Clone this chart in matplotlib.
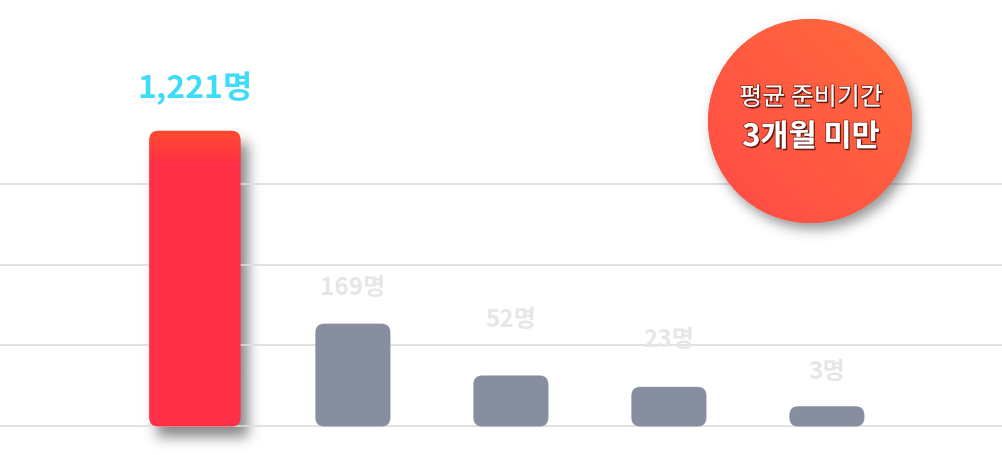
import numpy as np
import matplotlib
matplotlib.use('Agg')
import matplotlib.pyplot as plt
from matplotlib.patches import FancyBboxPatch, Circle
import matplotlib.patheffects as pe
from matplotlib.colors import to_rgb

plt.rcParams['font.family'] = ['Noto Sans CJK KR', 'DejaVu Sans']

# ---------------- data ----------------
categories = ['구간1', '구간2', '구간3', '구간4', '구간5']
counts = [1221, 169, 52, 23, 3]
# visual bar heights as drawn (in gridline units)
bar_heights = [3.65, 1.27, 0.63, 0.49, 0.25]
badge_lines = ['평균 준비기간', '3개월 미만']

# ---------------- style ----------------
W, H, DPI = 1003, 456, 100
bar_widths = [0.576, 0.475, 0.475, 0.475, 0.475]
gray = '#868e9f'
bar_colors = ['#ff3048', gray, gray, gray, gray]
label_colors = ['#3ddcf8', '#e6e6e8', '#e6e6e8', '#e6e6e8', '#e6e6e8']
label_sizes = [23, 17.5, 17.5, 17.5, 17.5]
label_offsets_px = [43, 37, 56, 48, 35]
grid_color = '#dcdcdc'

fig = plt.figure(figsize=(W / DPI, H / DPI), dpi=DPI)
fig.patch.set_facecolor('white')
ax = fig.add_axes([0, 0, 1, 1])
ax.set_facecolor('none')
x = np.arange(len(categories))
ax.set_xlim(-1.2335, 5.1146)
ax.set_ylim(-0.352, 5.278)
ax.set_yticks([0, 1, 2, 3])
ax.set_xticks(x)
ax.set_xticklabels(categories)
ax.tick_params(length=0, labelleft=False, labelbottom=False)
for s in ax.spines.values():
    s.set_visible(False)
ax.grid(axis='y', color=grid_color, linewidth=1.2)
ax.grid(axis='x', visible=False)
ax.set_axisbelow(True)

# pixel overlay axes (decorations under the bars)
ov = fig.add_axes([0, 0, 1, 1], zorder=-1)
ov.set_xlim(0, W)
ov.set_ylim(H, 0)
ov.axis('off')
ov.patch.set_visible(False)

bars = ax.bar(x, bar_heights, width=bar_widths, color=bar_colors)

px_x = 158.0
px_y = 81.0
r_x = 9 / px_x
aspect = (9 / px_y) / r_x

def blur(img, sigma):
    rad = int(3 * sigma)
    k = np.exp(-0.5 * (np.arange(-rad, rad + 1) / sigma) ** 2)
    k /= k.sum()
    out = np.apply_along_axis(lambda m: np.convolve(m, k, mode='same'), 0, img)
    out = np.apply_along_axis(lambda m: np.convolve(m, k, mode='same'), 1, out)
    return out

fig.canvas.draw()
shadow = np.zeros((H, W))
yy, xx = np.mgrid[0:H, 0:W]

for i, rect in enumerate(bars):
    x0, y0 = rect.get_x(), rect.get_y()
    w, h = rect.get_width(), rect.get_height()
    rect.set_visible(False)
    p = FancyBboxPatch((x0, y0), w, h,
                       boxstyle=f'round,pad=0,rounding_size={r_x}',
                       mutation_aspect=aspect, fc=bar_colors[i], ec='none', zorder=3)
    ax.add_patch(p)
    if i == 0:
        (X0, Y0), (X1, Y1) = ax.transData.transform([(x0, y0 + h), (x0 + w, y0)])
        top, bot = H - Y0, H - Y1
        m = ((xx >= X0 + 7) & (xx <= X1 + 7) & (yy >= top + 12) & (yy <= bot + 10)).astype(float)
        shadow += blur(m, 6.5) * 0.55
        c_top = np.array(to_rgb('#ff4a2f'))
        c_main = np.array(to_rgb('#ff3048'))
        n = 200
        t = np.clip(np.linspace(0, 1, n) / 0.12, 0, 1)[:, None]
        grad = c_top[None, :] * (1 - t) + c_main[None, :] * t
        img = np.repeat(grad[:, None, :], 2, axis=1)
        im = ax.imshow(img, extent=(x0, x0 + w, y0, y0 + h), origin='upper',
                       aspect='auto', zorder=3.5, interpolation='bilinear')
        im.set_clip_path(p)

# labels
for i, rect in enumerate(bars):
    cx = rect.get_x() + rect.get_width() / 2
    ax.annotate(f'{counts[i]:,}명', xy=(cx, bar_heights[i]),
                xytext=(0, label_offsets_px[i] * 72 / DPI), textcoords='offset points',
                ha='center', va='center', fontsize=label_sizes[i], fontweight='bold',
                color=label_colors[i], zorder=5)

shadow = np.clip(shadow, 0, 1)
sh_img = np.zeros((H, W, 4))
sh_img[..., :3] = 0.15
sh_img[..., 3] = shadow
ov.imshow(sh_img, extent=(0, W, H, 0), origin='upper', zorder=1, interpolation='bilinear')

# badge circle
ccx, ccy, cr = 810, 122, 102
m = (((xx - (ccx + 4)) ** 2 + (yy - (ccy + 6)) ** 2) <= cr ** 2).astype(float)

ax2 = fig.add_axes([0, 0, 1, 1], zorder=5)
ax2.set_xlim(0, W)
ax2.set_ylim(H, 0)
ax2.axis('off')
ax2.patch.set_visible(False)
sh2 = np.zeros((H, W, 4))
sh2[..., :3] = 0.2
sh2[..., 3] = np.clip(blur(m, 6) * 0.5, 0, 1)
ax2.imshow(sh2, extent=(0, W, H, 0), origin='upper', zorder=1, interpolation='bilinear')

circ = Circle((ccx, ccy), cr, fc='#ff5a42', ec='none', zorder=2)
ax2.add_patch(circ)
n = 256
u = np.linspace(0, 1, n)
U, V = np.meshgrid(u, u)
t = np.clip((U * -0.5 + V * 0.5) + 0.5, 0, 1)[..., None]
c1 = np.array(to_rgb('#ff6c3c'))
c2 = np.array(to_rgb('#ff4a47'))
gimg = c1 * (1 - t) + c2 * t
gi = ax2.imshow(gimg, extent=(ccx - cr, ccx + cr, ccy + cr, ccy - cr), origin='upper',
                zorder=3, interpolation='bilinear', aspect='auto')
gi.set_clip_path(circ)

effects = [pe.withSimplePatchShadow(offset=(1, -1.2), shadow_rgbFace='#3a0c05', alpha=0.75),
           pe.withStroke(linewidth=1.2, foreground=(0.35, 0.08, 0.04, 0.6))]
ax2.text(ccx + 1, 99, badge_lines[0], ha='center', va='center', fontsize=18,
         color='white', zorder=4, path_effects=effects)
ax2.text(ccx + 1, 138, badge_lines[1], ha='center', va='center', fontsize=22,
         fontweight='bold', color='white', zorder=4, path_effects=effects)
ax2.set_xlim(0, W)
ax2.set_ylim(H, 0)

fig.savefig('out.png', dpi=DPI, facecolor='white')
